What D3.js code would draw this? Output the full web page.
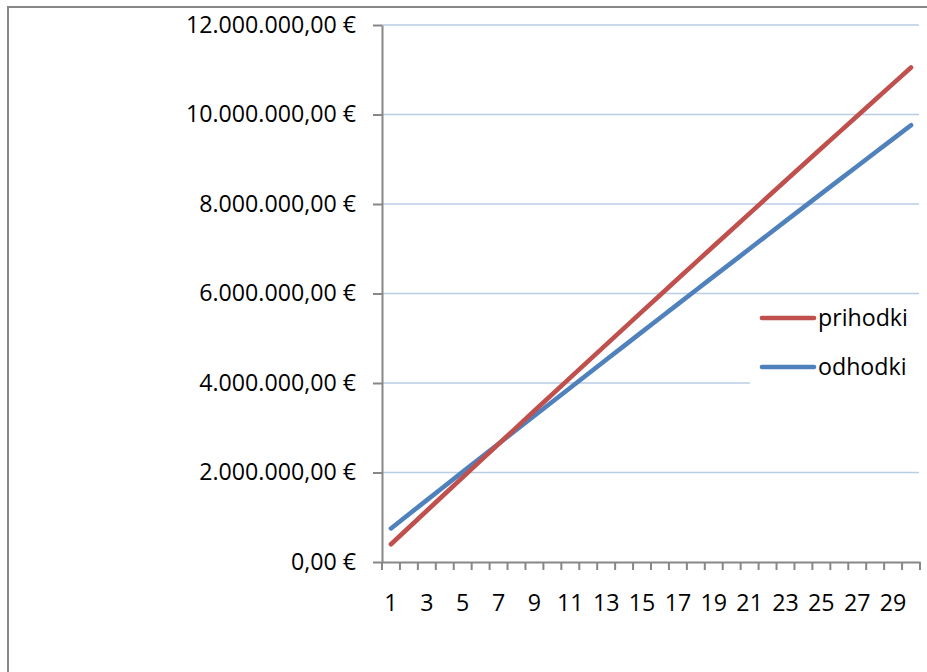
<!DOCTYPE html>
<html>
<head>
<meta charset="utf-8">
<script src="https://cdn.jsdelivr.net/npm/d3@7"></script>
<style>
  html, body { margin: 0; padding: 0; background: #fff; }
  svg { display: block; }
  text { font-family: "Open Sans", Lato, sans-serif; fill: #000; }
</style>
</head>
<body>
<svg id="chart" width="927" height="672"></svg>
<script>
// Years 1..30
const categories = d3.range(1, 31);
const xTickLabels = categories.filter(d => d % 2 === 1);

// Revenue (prihodki) per year, EUR
const prihodki = [
  396000, 771000, 1145000, 1519000, 1892000, 2264000, 2637000, 3008000, 3379000, 3750000,
  4120000, 4489000, 4858000, 5227000, 5595000, 5962000, 6329000, 6695000, 7061000, 7426000,
  7791000, 8155000, 8519000, 8882000, 9245000, 9607000, 9968000, 10329000, 10690000, 11050000
];

// Expenses (odhodki) per year, EUR
const odhodki = [
  750000, 1066000, 1382000, 1698000, 2013000, 2328000, 2642000, 2956000, 3269000, 3582000,
  3895000, 4207000, 4519000, 4831000, 5142000, 5453000, 5763000, 6073000, 6382000, 6691000,
  7000000, 7308000, 7616000, 7924000, 8231000, 8538000, 8844000, 9150000, 9455000, 9760000
];

const yTicks = [0, 2000000, 4000000, 6000000, 8000000, 10000000, 12000000];

const seriesNames = ["prihodki", "odhodki"];
const seriesColors = ["#C0504D", "#4F81BD"];

const FONT = "'Open Sans', Lato, sans-serif";
const FONT_SIZE = 23.2;

const svg = d3.select("#chart");

const plot = { left: 382, right: 920, top: 25, bottom: 562 };

const x = d3.scaleBand().domain(categories).range([plot.left, plot.right]).padding(0);
const y = d3.scaleLinear().domain([0, 12000000]).range([plot.bottom, plot.top]);

const sl = d3.formatLocale({ decimal: ",", thousands: ".", grouping: [3], currency: ["", "\u00a0€"] });
const eur = sl.format("$,.2f");

// outer chart frame
svg.append("rect")
  .attr("x", 8).attr("y", 7).attr("width", 1000).attr("height", 1000)
  .attr("fill", "none").attr("stroke", "#878787").attr("stroke-width", 2);

// horizontal gridlines
svg.append("g").selectAll("line")
  .data(yTicks.filter(d => d > 0))
  .join("line")
  .attr("x1", plot.left).attr("x2", plot.right - 1)
  .attr("y1", d => y(d)).attr("y2", d => y(d))
  .attr("stroke", "#B9CDE5").attr("stroke-width", 1.6);

// y axis
const yAxis = svg.append("g")
  .attr("transform", `translate(${plot.left},0)`)
  .call(d3.axisLeft(y).tickValues(yTicks).tickFormat(eur).tickSize(9).tickPadding(17).tickSizeOuter(0));
yAxis.select(".domain").attr("stroke", "#878787").attr("stroke-width", 2);
yAxis.selectAll(".tick line").attr("stroke", "#878787").attr("stroke-width", 2);
yAxis.selectAll(".tick text").attr("font-size", FONT_SIZE).attr("font-family", FONT).attr("fill", "#000");

// x axis: labels on odd years, ticks at every category boundary
const xAxis = svg.append("g")
  .attr("transform", `translate(0,${plot.bottom})`)
  .call(d3.axisBottom(x).tickValues(xTickLabels).tickSize(0).tickPadding(33).tickSizeOuter(0));
xAxis.select(".domain").attr("stroke", "#878787").attr("stroke-width", 2);
xAxis.selectAll(".tick text").attr("font-size", FONT_SIZE).attr("font-family", FONT).attr("fill", "#000");
xAxis.append("g").selectAll("line")
  .data(d3.range(categories.length + 1))
  .join("line")
  .attr("x1", i => plot.left + i * x.step()).attr("x2", i => plot.left + i * x.step())
  .attr("y1", 0).attr("y2", 8)
  .attr("stroke", "#878787").attr("stroke-width", 2);

// series lines (expenses first, revenue on top)
const line = d3.line()
  .x((d, i) => x(categories[i]) + x.bandwidth() / 2)
  .y(d => y(d));

[[odhodki, 1], [prihodki, 0]].forEach(([vals, idx]) => {
  svg.append("path")
    .datum(vals)
    .attr("d", line)
    .attr("fill", "none")
    .attr("stroke", seriesColors[idx])
    .attr("stroke-width", 4.6)
    .attr("stroke-linecap", "round")
    .attr("stroke-linejoin", "round");
});

// legend
const legend = svg.append("g");
legend.append("rect")
  .attr("x", 750).attr("y", 297).attr("width", 170).attr("height", 90)
  .attr("fill", "#fff");
seriesNames.forEach((name, i) => {
  const ly = 318 + i * 49;
  legend.append("line")
    .attr("x1", 762).attr("x2", 814).attr("y1", ly).attr("y2", ly)
    .attr("stroke", seriesColors[i]).attr("stroke-width", 4.6)
    .attr("stroke-linecap", "round");
  legend.append("text")
    .attr("x", 818).attr("y", ly).attr("dy", "0.35em")
    .attr("font-size", FONT_SIZE).attr("font-family", FONT)
    .text(name);
});
</script>
</body>
</html>
